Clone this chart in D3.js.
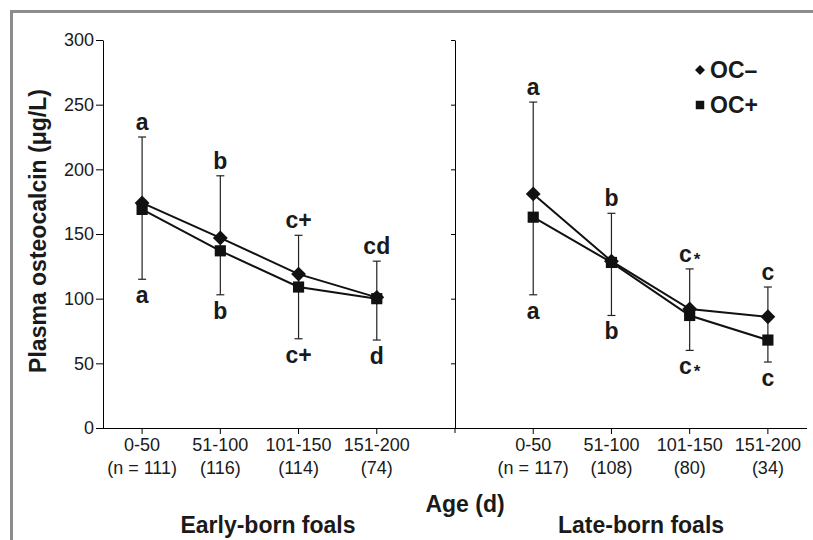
<!DOCTYPE html>
<html lang="en">
<head>
    <meta charset="UTF-8">
    <title>Plasma osteocalcin</title>
    <script src="https://d3js.org/d3.v7.min.js"></script>
    <style>
        body { margin: 0; background: #fff; }
        text { font-family: "Liberation Sans", Arial, sans-serif; fill: #1a1a1a; }
    </style>
</head>
<body>
<script>

    // data
    var ageGroups = ['0-50', '51-100', '101-150', '151-200'];
    var earlyN = ['(n = 111)', '(116)', '(114)', '(74)'];
    var lateN = ['(n = 117)', '(108)', '(80)', '(34)'];

    var earlyOcMinus = [174, 147, 119, 101];
    var earlyOcPlus = [169, 137, 109, 100];
    var earlyUpper = [225, 195, 149, 129];   // top of error bar
    var earlyLower = [115, 103, 69, 68];     // bottom of error bar
    var earlyLabelTop = ['a', 'b', 'c+', 'cd'];
    var earlyLabelBottom = ['a', 'b', 'c+', 'd'];

    var lateOcMinus = [181, 129, 92, 86];
    var lateOcPlus = [163, 128, 87, 68];
    var lateUpper = [252, 166, 123, 109];
    var lateLower = [103, 87, 60, 51];
    var lateLabelTop = ['a', 'b', 'c*', 'c'];
    var lateLabelBottom = ['a', 'b', 'c*', 'c'];

    var yTicks = [0, 50, 100, 150, 200, 250, 300];

    var svg = d3.select('body')
        .append('svg')
        .attr('width', 813)
        .attr('height', 540);

    // grey frame
    svg.append('path')
        .attr('d', 'M11.5,540 V11.5 H813')
        .attr('fill', 'none')
        .attr('stroke', '#8c8c8c')
        .attr('stroke-width', 3);

    // one slot per age group, with an empty slot between the two panels
    var slots = ageGroups.map(function (g) { return 'E' + g; })
        .concat(['gap'])
        .concat(ageGroups.map(function (g) { return 'L' + g; }));

    var x = d3.scaleBand()
        .domain(slots)
        .range([103, 807]);

    var y = d3.scaleLinear()
        .domain([0, 300])
        .range([428, 40]);

    function cx(key) { return x(key) + x.bandwidth() / 2; }

    // y axis
    var yAxis = svg.append('g')
        .attr('transform', 'translate(103,0)')
        .call(d3.axisLeft(y).tickValues(yTicks).tickSize(7).tickPadding(2).tickSizeOuter(0));
    yAxis.selectAll('text').attr('font-size', '18px').attr('fill', '#1a1a1a');
    yAxis.select('.domain').attr('stroke', '#000');

    // divider axis of the second panel
    var yAxis2 = svg.append('g')
        .attr('transform', 'translate(' + cx('gap') + ',0)')
        .call(d3.axisLeft(y).tickValues(yTicks).tickSize(4).tickFormat('').tickSizeOuter(0));
    yAxis2.append('line')
        .attr('y1', y(0)).attr('y2', y(0) + 5)
        .attr('stroke', '#000');

    // x axis
    var xAxis = svg.append('g')
        .attr('transform', 'translate(0,' + y(0) + ')')
        .call(d3.axisBottom(x)
            .tickValues(slots.filter(function (s) { return s !== 'gap'; }))
            .tickSize(6).tickSizeOuter(0).tickFormat(''));
    xAxis.select('.domain').attr('d', 'M103,0.5H807');

    function tickLabels(prefix, nLabels) {
        var g = svg.append('g');
        ageGroups.forEach(function (a, i) {
            var t = g.append('text')
                .attr('text-anchor', 'middle')
                .attr('font-size', '18px')
                .attr('x', cx(prefix + a))
                .attr('y', 451);
            t.append('tspan').attr('x', cx(prefix + a)).text(a);
            t.append('tspan').attr('x', cx(prefix + a)).attr('dy', 23).text(nLabels[i]);
        });
    }
    tickLabels('E', earlyN);
    tickLabels('L', lateN);

    // series
    var diamond = d3.symbol().type(d3.symbolSquare).size(110);
    var square = d3.symbol().type(d3.symbolSquare).size(125);

    var line = d3.line()
        .x(function (d) { return d.x; })
        .y(function (d) { return y(d.v); });

    function labelText(sel, s) {
        var parts = s.match(/^([a-z]+)(.*)$/);
        sel.append('tspan').text(parts[1]);
        if (parts[2] === '*') {
            sel.append('tspan').attr('font-size', '17px').attr('dy', 3).attr('dx', 2).text('*');
        } else if (parts[2]) {
            sel.append('tspan').text(parts[2]);
        }
    }

    function panel(prefix, minus, plus, upper, lower, labTop, labBottom) {
        var g = svg.append('g');
        var xs = ageGroups.map(function (a) { return cx(prefix + a); });

        // error bars
        xs.forEach(function (px, i) {
            g.append('line')
                .attr('x1', px).attr('x2', px)
                .attr('y1', y(upper[i])).attr('y2', y(lower[i]))
                .attr('stroke', '#222').attr('stroke-width', 1.2);
            [upper[i], lower[i]].forEach(function (v) {
                g.append('line')
                    .attr('x1', px - 4).attr('x2', px + 4)
                    .attr('y1', y(v)).attr('y2', y(v))
                    .attr('stroke', '#222').attr('stroke-width', 1.2);
            });
            g.append('text')
                .attr('x', px).attr('y', y(upper[i]) - 7)
                .attr('text-anchor', 'middle')
                .attr('font-size', '23px').attr('font-weight', 'bold')
                .call(labelText, labTop[i]);
            g.append('text')
                .attr('x', px).attr('y', y(lower[i]) + 24)
                .attr('text-anchor', 'middle')
                .attr('font-size', '23px').attr('font-weight', 'bold')
                .call(labelText, labBottom[i]);
        });

        [minus, plus].forEach(function (vals) {
            g.append('path')
                .datum(vals.map(function (v, i) { return { x: xs[i], v: v }; }))
                .attr('d', line)
                .attr('fill', 'none')
                .attr('stroke', '#111')
                .attr('stroke-width', 2);
        });

        g.selectAll('.sq')
            .data(plus)
            .enter().append('path')
            .attr('d', square)
            .attr('transform', function (d, i) { return 'translate(' + xs[i] + ',' + y(d) + ')'; })
            .attr('fill', '#111');

        g.selectAll('.dm')
            .data(minus)
            .enter().append('path')
            .attr('d', diamond)
            .attr('transform', function (d, i) { return 'translate(' + xs[i] + ',' + y(d) + ') rotate(45)'; })
            .attr('fill', '#111');
    }

    panel('E', earlyOcMinus, earlyOcPlus, earlyUpper, earlyLower, earlyLabelTop, earlyLabelBottom);
    panel('L', lateOcMinus, lateOcPlus, lateUpper, lateLower, lateLabelTop, lateLabelBottom);

    // legend
    var legend = svg.append('g');
    legend.append('path')
        .attr('d', d3.symbol().type(d3.symbolSquare).size(50))
        .attr('transform', 'translate(700,70) rotate(45)')
        .attr('fill', '#111');
    legend.append('path')
        .attr('d', d3.symbol().type(d3.symbolSquare).size(72))
        .attr('transform', 'translate(700,105)')
        .attr('fill', '#111');
    legend.append('text').attr('x', 710).attr('y', 78)
        .attr('font-size', '23px').attr('font-weight', 'bold').text('OC–');
    legend.append('text').attr('x', 710).attr('y', 113)
        .attr('font-size', '23px').attr('font-weight', 'bold').text('OC+');

    // axis titles
    svg.append('text')
        .attr('transform', 'translate(46,231) rotate(-90)')
        .attr('text-anchor', 'middle')
        .attr('font-size', '23px').attr('font-weight', 'bold')
        .text('Plasma osteocalcin (μg/L)');

    svg.append('text')
        .attr('x', 465).attr('y', 512)
        .attr('text-anchor', 'middle')
        .attr('font-size', '23px').attr('font-weight', 'bold')
        .text('Age (d)');

    svg.append('text')
        .attr('x', 268).attr('y', 533)
        .attr('text-anchor', 'middle')
        .attr('font-size', '23px').attr('font-weight', 'bold')
        .text('Early-born foals');

    svg.append('text')
        .attr('x', 641).attr('y', 533)
        .attr('text-anchor', 'middle')
        .attr('font-size', '23px').attr('font-weight', 'bold')
        .text('Late-born foals');

</script>
</body>
</html>
